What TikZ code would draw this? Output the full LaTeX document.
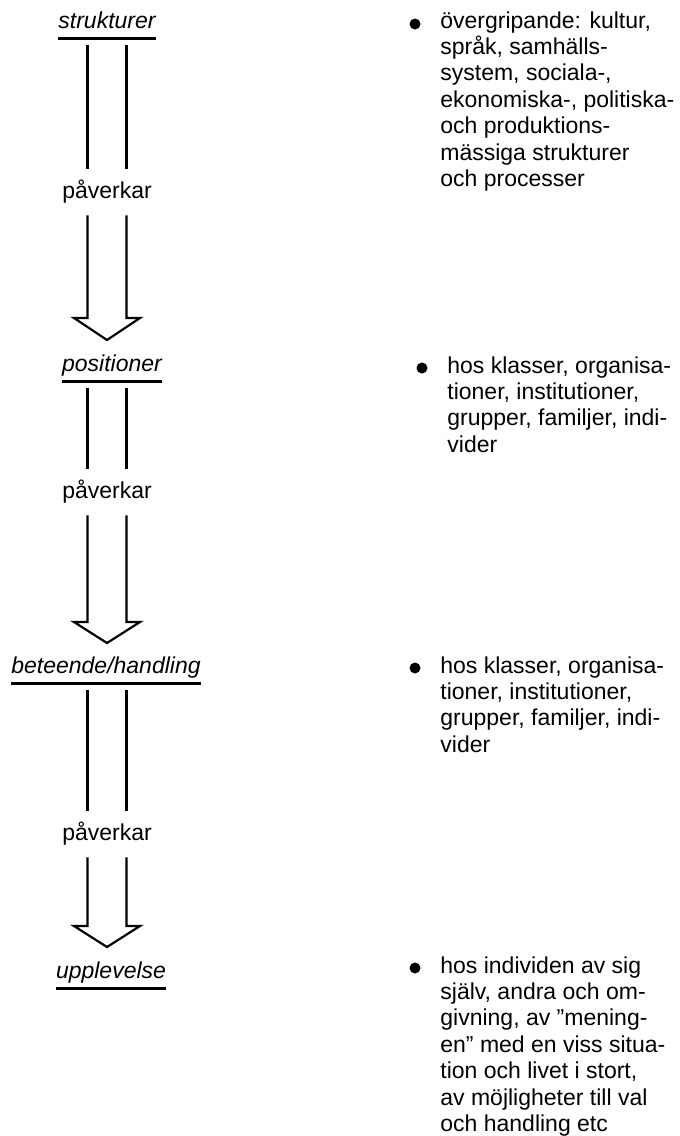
\documentclass[tikz,border=0pt]{standalone}
\usepackage{fontspec}
\setmainfont{Liberation Sans}

\tikzset{
  rubrik/.style={font=\fontsize{11.5}{13.2}\selectfont\itshape, inner sep=0pt, text depth=5pt, anchor=base},
  pilord/.style={font=\fontsize{11.5}{13.2}\selectfont, inner sep=0pt, minimum height=23pt},
  punkttext/.style={font=\fontsize{11.5}{13.2}\selectfont, align=left, anchor=north west, inner sep=0pt},
  prick/.style={circle, fill=black, inner sep=0pt, minimum size=5.5pt},
  skaft/.style={line width=1.1pt, line join=miter},
  streck/.style={line width=1.5pt}
}

\begin{document}
\begin{tikzpicture}[x=0.5pt,y=-0.5pt]
    \useasboundingbox (0,0) rectangle (680,1136);

    \node[rubrik] (t1) at (107,28) {strukturer};
    \node[rubrik] (t2) at (112,371) {positioner};
    \node[rubrik] (t3) at (106,673) {beteende/handling};
    \node[rubrik] (t4) at (111,978) {upplevelse};
    \draw[streck] (t1.south west) -- (t1.south east);
    \draw[streck] (t2.south west) -- (t2.south east);
    \draw[streck] (t3.south west) -- (t3.south east);
    \draw[streck] (t4.south west) -- (t4.south east);

    \node[pilord] (p1) at (107,192) {påverkar};
    \node[pilord] (p2) at (107,492) {påverkar};
    \node[pilord] (p3) at (107,834) {påverkar};

    \coordinate (s1) at (107,45);
    \coordinate (h1) at (107,318);
    \coordinate (s2) at (107,388);
    \coordinate (h2) at (107,622);
    \coordinate (s3) at (107,690);
    \coordinate (h3) at (107,926);

    \draw[skaft] ([xshift=-9.75pt]s1) -- ([xshift=-9.75pt]p1.north);
    \draw[skaft] ([xshift=9.75pt]s1) -- ([xshift=9.75pt]p1.north);
    \draw[skaft] ([xshift=-9.75pt]p1.south) -- ([xshift=-9.75pt]h1) -- ([xshift=-16.5pt]h1)
      -- ([yshift=-11pt]h1) -- ([xshift=16.5pt]h1) -- ([xshift=9.75pt]h1) -- ([xshift=9.75pt]p1.south);

    \draw[skaft] ([xshift=-9.75pt]s2) -- ([xshift=-9.75pt]p2.north);
    \draw[skaft] ([xshift=9.75pt]s2) -- ([xshift=9.75pt]p2.north);
    \draw[skaft] ([xshift=-9.75pt]p2.south) -- ([xshift=-9.75pt]h2) -- ([xshift=-16.5pt]h2)
      -- ([yshift=-10.5pt]h2) -- ([xshift=16.5pt]h2) -- ([xshift=9.75pt]h2) -- ([xshift=9.75pt]p2.south);

    \draw[skaft] ([xshift=-9.75pt]s3) -- ([xshift=-9.75pt]p3.north);
    \draw[skaft] ([xshift=9.75pt]s3) -- ([xshift=9.75pt]p3.north);
    \draw[skaft] ([xshift=-9.75pt]p3.south) -- ([xshift=-9.75pt]h3) -- ([xshift=-16.5pt]h3)
      -- ([yshift=-10.5pt]h3) -- ([xshift=16.5pt]h3) -- ([xshift=9.75pt]h3) -- ([xshift=9.75pt]p3.south);

    \node[prick] (b1) at (415,24) {};
    \node[prick] (b2) at (422,368) {};
    \node[prick] (b3) at (415,668) {};
    \node[prick] (b4) at (415,968) {};

    \node[punkttext] (k1) at (440,11) {övergripande: kultur,\\språk, samhälls-\\system, sociala-,\\ekonomiska-, politiska-\\och produktions-\\mässiga strukturer\\och processer};
    \node[punkttext] (k2) at (447,356) {hos klasser, organisa-\\tioner, institutioner,\\grupper, familjer, indi-\\vider};
    \node[punkttext] (k3) at (440,656) {hos klasser, organisa-\\tioner, institutioner,\\grupper, familjer, indi-\\vider};
    \node[punkttext] (k4) at (440,956) {hos individen av sig\\själv, andra och om-\\givning, av ''mening-\\en'' med en viss situa-\\tion och livet i stort,\\av möjligheter till val\\och handling etc};
\end{tikzpicture}
\end{document}
